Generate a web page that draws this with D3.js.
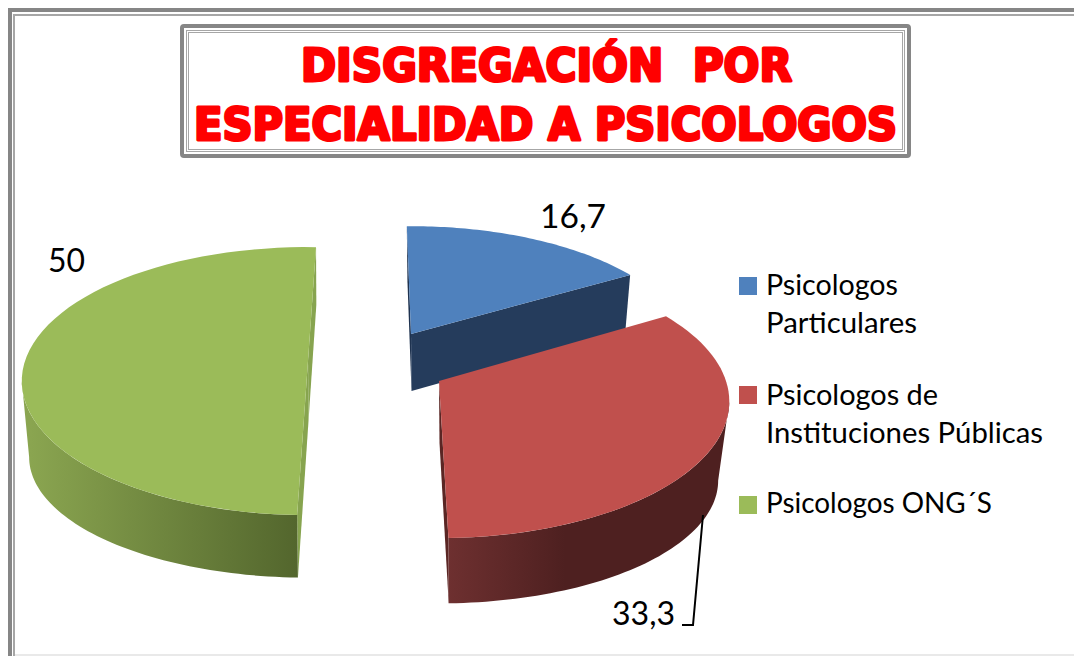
<!DOCTYPE html>
<html><head><meta charset="utf-8">
<script src="https://cdnjs.cloudflare.com/ajax/libs/d3/7.8.5/d3.min.js"></script>
<style>html,body{margin:0;background:#fff}svg{display:block}</style>
</head><body><svg id="c" width="1074" height="656"></svg>
<script>
const categories = ["Psicologos Particulares", "Psicologos de Instituciones Públicas", "Psicologos ONG´S"];
const values = [16.7, 33.3, 50];
const valueLabels = ["16,7", "33,3", "50"];
const titleLines = ["DISGREGACIÓN  POR", "ESPECIALIDAD A PSICOLOGOS"];
const legendLines = [["Psicologos", "Particulares"], ["Psicologos de", "Instituciones Públicas"], ["Psicologos ONG´S"]];

// layout / styling, separate from the data
const K = 0.15;
const D2R = Math.PI/180;
const view = [
 {cx:411,cy:334,rx:275,ry:124,d:57,rot:-1,    top:"#4f81bd",side:["#253c5c","#253c5c"],wall:"#2a4568"},
 {cx:439,cy:381,rx:287,ry:133.5,d:62,rot:-1.6,top:"#c0504d",side:["#6e3030","#4e2020"],wall:"#5a2624",gx:[447,565],cd:81,csy:0.9,csx:0.96,from:98.6,to:179},
 {cx:308,cy:361,rx:283,ry:131,d:60,rot:1.87, top:"#9bbb59",side:["#8aa550","#53662d"],wall:"#87a44f",gx:[30,298],cd:78,csy:0.9,csx:0.976,from:181.87,to:261.4}
];
const svg = d3.select("#c");
const defs = svg.append("defs");
const pie = d3.pie().sort(null).value(d=>d);
const arcs = pie(values);

function projWith(v, t, dy, sx, sy){
  const p = 1/(1+K*Math.cos(t));
  return [v.cx + (dy?0.5:0) + v.rx*sx*Math.sin(t)*p, v.cy + dy - v.ry*sy*Math.cos(t)*p];
}
const proj = (v,t,bottom)=> bottom ? projWith(v,t,v.d,0.976,1.02) : projWith(v,t,0,1,1);
const line = d3.line();
const arcPts = (v,a,b)=>d3.range(0,61).map(i=>proj(v,a+(b-a)*i/60,false));

// frame
const frame = svg.append("g");
frame.append("path").attr("d","M10,656V10H1074").attr("fill","none").attr("stroke","#868686").attr("stroke-width",4);
frame.append("path").attr("d","M14,656V15H1074").attr("fill","none").attr("stroke","#a6a6a6").attr("stroke-width",2);
frame.append("line").attr("x1",15).attr("x2",1074).attr("y1",655).attr("y2",655).attr("stroke","#e2e2e2").attr("stroke-width",1.5);

// title box
const tb = svg.append("g");
tb.append("rect").attr("x",182).attr("y",26).attr("width",727).attr("height",130).attr("rx",2).attr("fill","#fff").attr("stroke","#868686").attr("stroke-width",4);
tb.append("rect").attr("x",186.5).attr("y",30.5).attr("width",718).attr("height",121).attr("fill","none").attr("stroke","#a6a6a6").attr("stroke-width",1);
tb.append("rect").attr("x",188.5).attr("y",32.5).attr("width",714).attr("height",117).attr("fill","none").attr("stroke","#a6a6a6").attr("stroke-width",1);
const titleFit = [{x:301,w:491,y:81},{x:194,w:703,y:140}];
tb.selectAll("text").data(titleLines).join("text")
  .attr("x",(d,i)=>titleFit[i].x).attr("y",(d,i)=>titleFit[i].y)
  .attr("textLength",(d,i)=>titleFit[i].w).attr("lengthAdjust","spacingAndGlyphs")
  .attr("xml:space","preserve").style("white-space","pre")
  .attr("font-family","'DejaVu Sans'").attr("font-weight","bold").attr("font-size",44)
  .attr("fill","#ff0000").attr("stroke","#ff0000").attr("stroke-width",3).attr("stroke-linejoin","round")
  .text(d=>d);

// pie
const chart = svg.append("g");
[0,1,2].forEach(k=>{ if(view[k].gx){
  const g = defs.append("linearGradient").attr("id","g"+k).attr("gradientUnits","userSpaceOnUse")
    .attr("x1",view[k].gx[0]).attr("x2",view[k].gx[1]).attr("y1",0).attr("y2",0);
  g.append("stop").attr("offset",0).attr("stop-color",view[k].side[0]);
  g.append("stop").attr("offset",1).attr("stop-color",view[k].side[1]);
}});
function drawSlice(k){
  const v = view[k], r = v.rot*D2R;
  const a = arcs[k].startAngle+r, b = arcs[k].endAngle+r;
  const ap=[v.cx,v.cy], apB=[v.cx+0.5,v.cy+v.d];
  const g = chart.append("g");
  if(k===0){
    g.append("path").attr("d",line([ap,proj(v,a,false),proj(v,a,true),apB])+"Z").attr("fill","#1f3350");
    g.append("path").attr("d",line([ap,proj(v,b,false),proj(v,b,true),apB])+"Z").attr("fill",v.side[0]);
  } else {
    g.append("path").attr("d",line([ap,proj(v,k===1?b:a,false),proj(v,k===1?b:a,true),apB])+"Z").attr("fill",v.wall);
    if(k===2) g.append("path").attr("d",line([ap,proj(v,b,false),proj(v,b,true),apB])+"Z").attr("fill",v.wall);
    // curved wall: the visible front part, from the slice edge to the silhouette tangent
    const from = Math.max(v.from*D2R, a) , to = Math.min(v.to*D2R, b);
    const ts = d3.range(0,61).map(i=>from+(to-from)*i/60);
    const topP = ts.map(t=>proj(v,t,false));
    const botP = ts.map(t=>projWith(v,t,v.cd,v.csx,v.csy)).reverse();
    g.append("path").attr("d",line(topP.concat(botP))+"Z").attr("fill","url(#g"+k+")");
  }
  g.append("path").attr("d",line([ap].concat(arcPts(v,a,b)))+"Z").attr("fill",v.top);
}
drawSlice(2); drawSlice(0); drawSlice(1);

// data labels
const lab = [{x:540,y:228,w:66},{x:612,y:625,w:63},{x:48,y:272,w:37}];
svg.append("g").selectAll("text").data(valueLabels).join("text")
  .attr("x",(d,i)=>lab[i].x).attr("y",(d,i)=>lab[i].y)
  .attr("textLength",(d,i)=>lab[i].w).attr("lengthAdjust","spacingAndGlyphs")
  .attr("font-family","Lato").attr("font-size",33).attr("fill","#000").text(d=>d);
svg.append("path").attr("d","M703,515L693,625H682").attr("fill","none").attr("stroke","#000").attr("stroke-width",2);

// legend
const swY=[277,386,496];
const legendColor = view.map(v=>v.top);
const legFit=[[[295,132],[333,151]],[[405,172],[443,277]],[[513,226]]];
const lg = svg.append("g");
categories.forEach((c,i)=>{
  lg.append("rect").attr("x",739).attr("y",swY[i]).attr("width",18).attr("height",18).attr("fill",legendColor[i]);
  legendLines[i].forEach((t,j)=>{
    lg.append("text").attr("x",766).attr("y",legFit[i][j][0]).attr("textLength",legFit[i][j][1]).attr("lengthAdjust","spacingAndGlyphs")
      .attr("font-family","Lato").attr("font-size",28).attr("fill","#000").text(t);
  });
});
</script></body></html>
